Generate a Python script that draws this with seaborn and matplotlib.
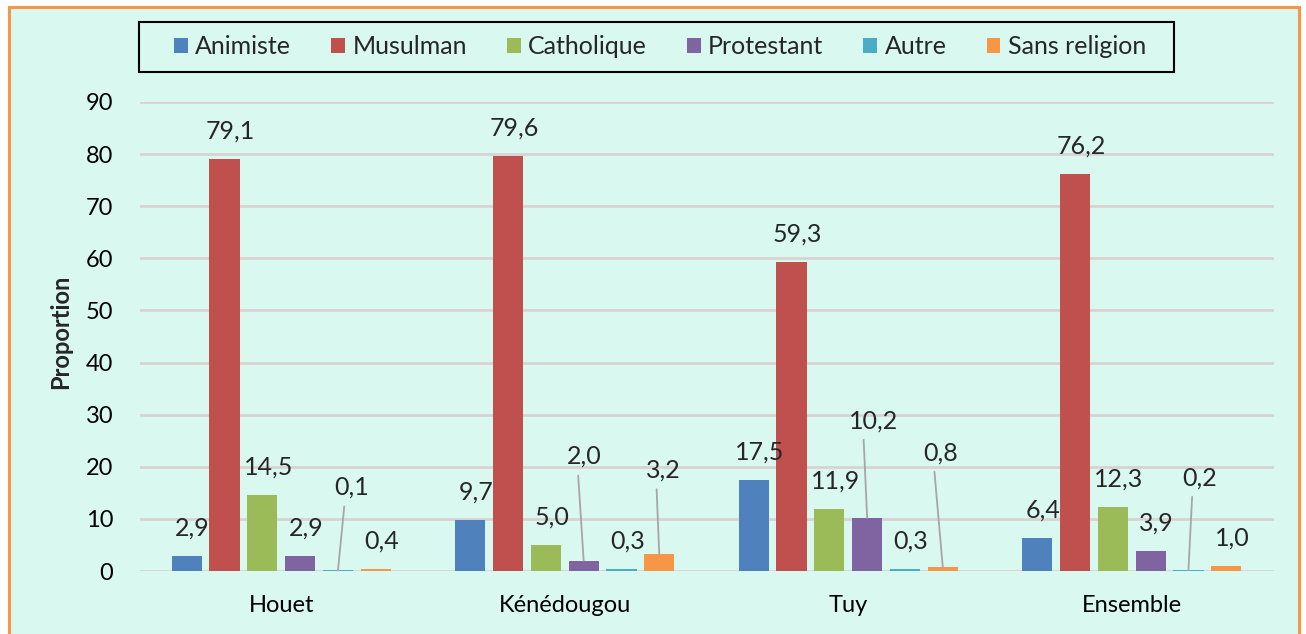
import numpy as np
import pandas as pd
import matplotlib
matplotlib.use('Agg')
import matplotlib.pyplot as plt
from matplotlib.patches import Rectangle, Patch
import seaborn as sb

sb.set_style("white")
plt.rcParams['font.family'] = ['Lato', 'DejaVu Sans']

# data
regions = ["Houet", "Kénédougou", "Tuy", "Ensemble"]
religions = ["Animiste", "Musulman", "Catholique", "Protestant", "Autre", "Sans religion"]
animiste = [2.9, 9.7, 17.5, 6.4]
musulman = [79.1, 79.6, 59.3, 76.2]
catholique = [14.5, 5.0, 11.9, 12.3]
protestant = [2.9, 2.0, 10.2, 3.9]
autre = [0.1, 0.3, 0.3, 0.2]
sans_religion = [0.4, 3.2, 0.8, 1.0]
yticks = list(range(0, 100, 10))

colors = ["#4F81BD", "#C0504D", "#9BBB59", "#8064A2", "#4BACC6", "#F79646"]
bg = "#D9F8F0"
grid_c = "#D9D2D2"
fs = 17

# labels moved by hand (religion index, region index) -> offset in pixels from bar top
moved = {(4, 0): (14, 83), (3, 1): (1, 104), (5, 1): (4, 84),
         (3, 2): (6, 97), (5, 2): (-2, 114), (4, 3): (11, 92)}

series = [animiste, musulman, catholique, protestant, autre, sans_religion]
rows = []
for rel, vals in zip(religions, series):
    for reg, v in zip(regions, vals):
        rows.append({"region": reg, "religion": rel, "value": v})
df = pd.DataFrame(rows)

W, H = 1306, 634
fig = plt.figure(figsize=(W / 100, H / 100), dpi=100, facecolor="white")
fig.patches.append(Rectangle((8.5 / W, -0.05), 1290.5 / W, 1.05 - 6.5 / H,
                             transform=fig.transFigure, facecolor=bg,
                             edgecolor="#F79646", lw=2.2, zorder=-10))
# legend box
fig.patches.append(Rectangle((139 / W, 1 - 72 / H), 1035 / W, 50 / H,
                             transform=fig.transFigure, facecolor="none",
                             edgecolor="black", lw=1.5, zorder=5))
ax = fig.add_axes([139.5 / W, 63 / H, 1134 / W, 469 / H])
ax.set_facecolor("none")

sb.barplot(data=df, x="region", y="value", hue="religion", hue_order=religions,
           order=regions, palette=colors, saturation=1, width=0.8, gap=0.2, ax=ax,
           linewidth=0, errorbar=None)
if ax.get_legend() is not None:
    ax.get_legend().remove()

ax.set_ylim(0, 90)
ax.set_xlim(-0.5, 3.5)
ax.set_yticks(yticks)
ax.yaxis.grid(True, color=grid_c, lw=2)
ax.set_axisbelow(True)
for s in ax.spines.values():
    s.set_visible(False)
ax.tick_params(axis="both", length=0, labelsize=fs, colors="black")
ax.tick_params(axis="x", pad=17)
ax.tick_params(axis="y", pad=19)
ax.set_xlabel("")
ax.set_ylabel("Proportion", fontsize=fs, fontweight="bold")
ax.yaxis.set_label_coords(-0.0595, 0.51)

for i, cont in enumerate(ax.containers):
    for j, bar in enumerate(cont):
        v = series[i][j]
        x = bar.get_x() + bar.get_width() / 2
        txt = "{:.1f}".format(v).replace(".", ",")
        if (i, j) in moved:
            dx, dy = moved[(i, j)]
            ax.annotate(txt, (x, v), xytext=(dx, dy), textcoords="offset pixels",
                        ha="center", va="center", fontsize=fs + 1,
                        arrowprops=dict(arrowstyle="-", color="#A6A6A6", lw=1.3,
                                        relpos=(0.3, 0), shrinkA=3, shrinkB=0))
        else:
            ax.annotate(txt, (x, v), xytext=(6, 28), textcoords="offset pixels",
                        ha="center", va="center", fontsize=fs + 1)

handles = [Patch(facecolor=c, edgecolor="none") for c in colors]
leg = fig.legend(handles, religions, loc="center", ncol=6,
                 bbox_to_anchor=(660 / W, 1 - 47 / H), fontsize=18,
                 frameon=False, handlelength=0.55, handleheight=0.55,
                 handletextpad=0.3, columnspacing=1.6, borderpad=0, borderaxespad=0)

plt.savefig("out.png", dpi=100, facecolor="white")
plt.close()
